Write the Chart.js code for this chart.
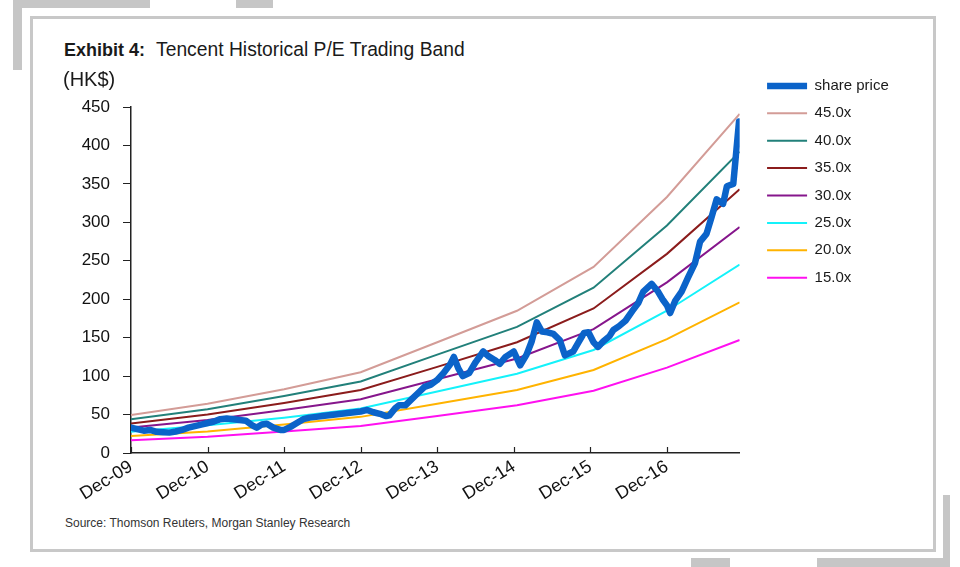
<!DOCTYPE html>
<html>
<head>
<meta charset="utf-8">
<title>Tencent Historical P/E Trading Band</title>
<script src="https://cdn.jsdelivr.net/npm/chart.js@4.4.1/dist/chart.umd.min.js"></script>
<style>
  html, body { margin: 0; padding: 0; background: #fff; }
  body { width: 960px; height: 567px; position: relative; overflow: hidden; font-family: "Liberation Sans", Arial, sans-serif; }
  .bar { position: absolute; background: #c6c6c6; }
  .frame { position: absolute; left: 30px; top: 16px; width: 900px; height: 530px; border: 3px solid #c8c8c8; box-sizing: content-box; }
  #title { position: absolute; left: 64px; top: 41px; font-size: 18px; line-height: 18px; color: #1a1a1a; white-space: nowrap; }
  #title b { margin-right: 6px; }
  #title span { font-size: 19.3px; }
  #source { position: absolute; left: 65px; top: 517px; font-size: 12px; line-height: 12px; color: #333; white-space: nowrap; }
  #chart { position: absolute; left: 0; top: 0; }
</style>
</head>
<body>
<div class="bar" style="left:13px;top:0;width:137px;height:8px"></div>
<div class="bar" style="left:13px;top:0;width:9px;height:70px"></div>
<div class="bar" style="left:236px;top:0;width:37px;height:8px"></div>
<div class="bar" style="left:943px;top:495px;width:7px;height:72px"></div>
<div class="bar" style="left:817px;top:558px;width:133px;height:9px"></div>
<div class="bar" style="left:691px;top:558px;width:39px;height:9px"></div>
<div class="frame"></div>
<div id="title"><b>Exhibit 4:</b> <span>Tencent Historical P/E Trading Band</span></div>
<div id="source">Source: Thomson Reuters, Morgan Stanley Research</div>
<canvas id="chart" width="960" height="567"></canvas>
<script>
// x values are months counted from Dec-09
const xLabels = ['Dec-09', 'Dec-10', 'Dec-11', 'Dec-12', 'Dec-13', 'Dec-14', 'Dec-15', 'Dec-16'];
const xTickMonths = [0, 12, 24, 36, 48, 60, 72, 84];

const priceMonths = [0, 1, 2, 3, 4, 5, 6, 7, 8, 9, 10, 11, 12, 13, 14, 15, 16, 17, 18, 19,
  19.7, 20.5, 21.3, 22.3, 23.4,
  24, 25, 26, 27, 28, 29, 30, 31, 32, 33, 34, 35, 36, 37, 38, 39, 40,
  40.5, 41.4,
  42, 43, 44, 45, 46, 47, 48, 49, 50,
  50.6, 51.3,
  52, 53, 54,
  55.2, 56, 57, 57.8, 58.7, 60, 61, 62, 62.8, 63.6, 64.4, 65.3, 66.2, 67.2, 68, 69.3, 70.2, 71, 71.7,
  72.5, 73.2, 74, 75, 75.6, 76.5, 77.5, 78.7, 79.5, 80.3, 81.6, 82.6, 83.3, 84, 84.5, 85.3, 86.3,
  87.3, 88.4, 89.2, 90.2, 91, 91.8, 92.8, 93.4, 94.4, 94.9, 95.3];
const priceValues = [33, 31, 29, 30, 27.5, 27, 26.5, 28, 30, 33, 35, 37, 39, 41, 44, 45, 44, 43, 42, 36,
  33, 37, 38, 33, 30,
  30, 34, 39, 44, 46, 47, 48, 49, 50, 51, 52, 53, 54, 56, 53, 51, 48,
  49, 58,
  62, 62, 70, 78, 86, 89, 95, 104, 115,
  125, 110,
  100, 104, 118,
  132, 126, 121, 116, 125, 132, 114, 128, 145, 170, 158, 157, 155, 147, 127, 132, 145, 156, 157,
  144, 138, 145, 152, 160, 165, 172, 186, 195, 210, 220, 210, 200, 192, 182, 198, 210,
  228, 247, 275, 285, 307, 330, 324, 347, 350, 395, 431];

const bandMonths = [0, 12, 24, 36, 48, 60.5, 72.5, 84, 95.4];
const pe45 = [49.5, 64, 83, 105, 144, 185, 242, 333, 441];
const pe40 = [44, 57, 74, 93, 128, 164, 215, 296, 392];
const pe35 = [38.5, 50, 65, 82, 112, 144, 188, 259, 343];
const pe30 = [33, 43, 56, 70, 96, 123, 161, 222, 294];
const pe25 = [27.5, 36, 46, 58, 80, 103, 134, 185, 245];
const pe20 = [22, 28, 37, 47, 64, 82, 108, 148, 196];
const pe15 = [16.5, 21, 28, 35, 48, 62, 81, 111, 147];

function points(xs, ys) {
  return xs.map((x, i) => ({ x: x, y: ys[i] }));
}

function band(label, values, color) {
  return {
    label: label,
    data: points(bandMonths, values),
    borderColor: color,
    backgroundColor: color,
    borderWidth: 2,
    pointRadius: 0,
    tension: 0
  };
}

// x axis ticks in the reference point up into the plot
const innerTicks = {
  id: 'innerTicks',
  afterDraw(chart) {
    const xs = chart.scales.x;
    const ctx = chart.ctx;
    ctx.save();
    ctx.strokeStyle = '#222';
    ctx.lineWidth = 1.2;
    xs.ticks.forEach(t => {
      const px = Math.round(xs.getPixelForValue(t.value)) + 0.5;
      ctx.beginPath();
      ctx.moveTo(px, xs.top);
      ctx.lineTo(px, xs.top - 6);
      ctx.stroke();
    });
    ctx.restore();
  }
};

new Chart(document.getElementById('chart'), {
  type: 'line',
  data: {
    datasets: [
      {
        label: 'share price',
        data: points(priceMonths, priceValues),
        borderColor: '#0b63c9',
        backgroundColor: '#0b63c9',
        borderWidth: 6.5,
        pointRadius: 0,
        tension: 0,
        borderJoinStyle: 'round',
        borderCapStyle: 'round'
      },
      band('45.0x', pe45, '#d39c97'),
      band('40.0x', pe40, '#22807a'),
      band('35.0x', pe35, '#8b1c1c'),
      band('30.0x', pe30, '#86168c'),
      band('25.0x', pe25, '#14f2fa'),
      band('20.0x', pe20, '#ffb300'),
      band('15.0x', pe15, '#ff10f0')
    ]
  },
  options: {
    responsive: false,
    animation: false,
    layout: { padding: { top: 66, left: 63, right: 67, bottom: 54 } },
    plugins: {
      title: {
        display: true,
        text: '(HK$)',
        align: 'start',
        color: '#1a1a1a',
        font: { family: 'Liberation Sans', size: 20, weight: 'normal' },
        padding: { top: 2, bottom: 15 }
      },
      legend: {
        position: 'right',
        align: 'start',
        labels: {
          usePointStyle: true,
          pointStyle: 'line',
          pointStyleWidth: 40,
          padding: 12.4,
          color: '#1a1a1a',
          font: { family: 'Liberation Sans', size: 15 }
        }
      },
      tooltip: { enabled: false }
    },
    scales: {
      x: {
        type: 'linear',
        min: 0,
        max: 95.4,
        afterBuildTicks: s => { s.ticks = xTickMonths.map(v => ({ value: v })); },
        afterFit: s => { s.height = 60; },
        grid: { display: false, drawTicks: false },
        border: { display: true, color: '#222', width: 1.5 },
        ticks: {
          autoSkip: false,
          maxRotation: 32,
          minRotation: 32,
          padding: 3,
          color: '#111',
          font: { family: 'Liberation Sans', size: 18 },
          callback: v => xLabels[xTickMonths.indexOf(v)]
        }
      },
      y: {
        min: 0,
        max: 450,
        afterFit: s => { s.width = 68; },
        grid: { drawOnChartArea: false, drawTicks: true, tickLength: 8, color: '#222' },
        border: { display: true, color: '#222', width: 1.5 },
        ticks: {
          stepSize: 50,
          padding: 13,
          color: '#111',
          font: { family: 'Liberation Sans', size: 17 }
        }
      },
      // empty spacer between the plot and the legend
      gap: {
        type: 'linear',
        position: 'right',
        display: true,
        grid: { display: false },
        border: { display: false },
        ticks: { display: false },
        afterFit: s => { s.width = 15; }
      }
    }
  },
  plugins: [innerTicks]
});
</script>
</body>
</html>
